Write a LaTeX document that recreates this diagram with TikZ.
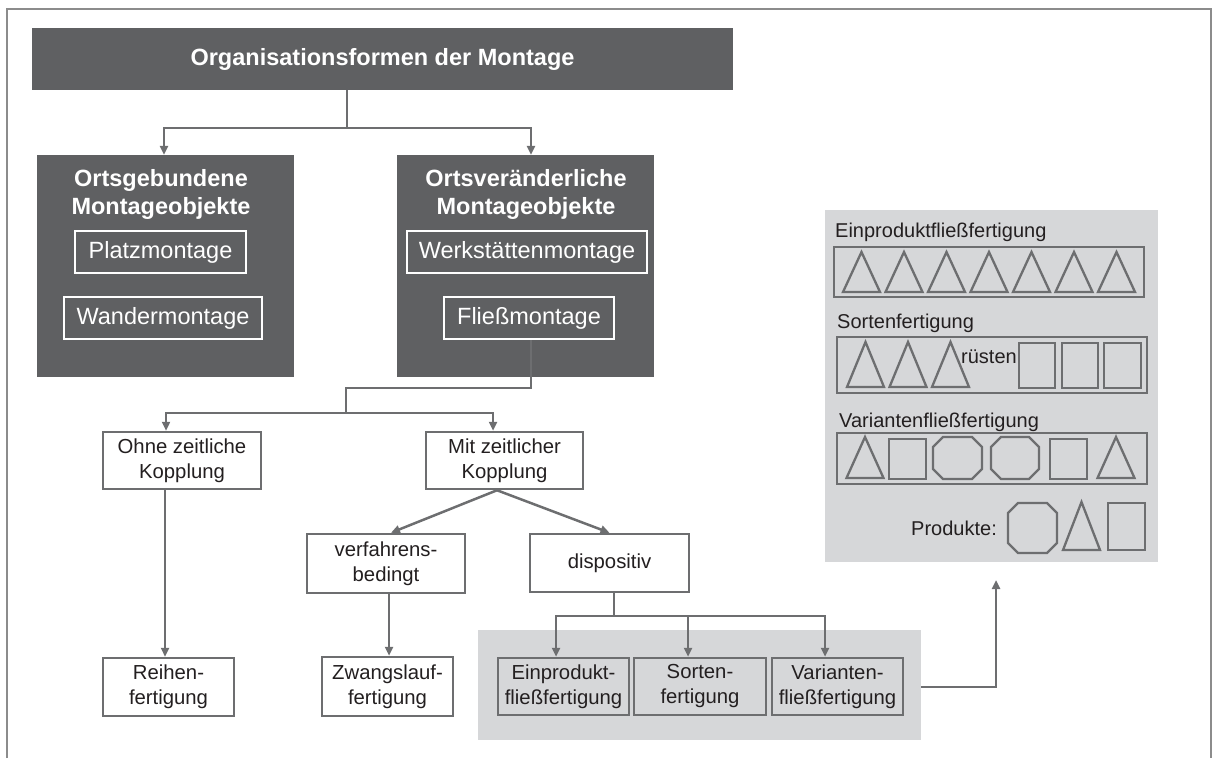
\documentclass[tikz,border=0pt]{standalone}
\usepackage{fontspec}
\setmainfont{Liberation Sans}
\usetikzlibrary{arrows.meta}

\definecolor{darkfill}{HTML}{5F6062}
\definecolor{linegray}{HTML}{6D6E70}
\definecolor{panel}{HTML}{D6D7D9}
\definecolor{ink}{HTML}{231F20}
\definecolor{framegray}{HTML}{8C8C8C}

% simple product symbols: triangle (centre x, apex y, base y), octagon and square (corners)
\newcommand\drawTri[3]{\draw[prodshape] (#1-18.5,#3) -- (#1,#2) -- (#1+18.5,#3) -- cycle;}
\newcommand\drawOct[4]{\draw[prodshape] (#1+10,#2) -- (#3-10,#2) -- (#3,#2+10) -- (#3,#4-10) -- (#3-10,#4) -- (#1+10,#4) -- (#1,#4-10) -- (#1,#2+10) -- cycle;}
\newcommand\drawSq[4]{\draw[prodshape] (#1,#2) rectangle (#3,#4);}

\tikzset{
  conn/.style={draw=linegray, line width=2.5pt},
  arr/.style={conn, -{Triangle[length=9pt,width=8pt]}},
  darkbox/.style={fill=darkfill, draw=none, inner sep=0pt, text=white},
  headtext/.style={text=white, align=center, inner sep=0pt, font=\bfseries\fontsize{23.5}{28}\selectfont},
  whitebox/.style={draw=white, line width=2pt, inner sep=0pt, text=white, font=\fontsize{23.5}{28}\selectfont},
  plainbox/.style={draw=linegray, line width=2.5pt, fill=white, inner sep=0pt, text=ink, align=center, font=\fontsize{20.3}{25}\selectfont},
  panelbox/.style={plainbox, fill=none},
  panelbg/.style={fill=panel, draw=none, inner sep=0pt},
  prodshape/.style={draw=linegray, line width=2.3pt},
  lbl/.style={anchor=base west, inner sep=0pt, text=ink, font=\fontsize{20}{24}\selectfont},
}

\begin{document}
\begin{tikzpicture}[x=1pt, y=-1pt]
\useasboundingbox (0,0) rectangle (1212,758);

% outer frame (open at the bottom)
\draw[draw=framegray, line width=2.5pt] (7,758) -- (7,9) -- (1211,9) -- (1211,758);

% grey panels
\node[panelbg, minimum width=443pt, minimum height=110pt] (grayL) at (699.5,685) {};
\node[panelbg, minimum width=333pt, minimum height=352pt] (grayR) at (991.5,386) {};

% top level
\node[darkbox, minimum width=701pt, minimum height=62pt, font=\bfseries\fontsize{23.5}{28}\selectfont] (title) at (382.5,59) {Organisationsformen der Montage};

\node[darkbox, minimum width=257pt, minimum height=222pt] (box1) at (165.5,266) {};
\node[headtext] (box1h) at (161,194) {Ortsgebundene\\Montageobjekte};
\node[whitebox, minimum width=171pt, minimum height=42pt] (platz) at (160.5,252) {Platzmontage};
\node[whitebox, minimum width=198pt, minimum height=42pt] (wander) at (163,318) {Wandermontage};

\node[darkbox, minimum width=257pt, minimum height=222pt] (box2) at (525.5,266) {};
\node[headtext] (box2h) at (526,194) {Ortsveränderliche\\Montageobjekte};
\node[whitebox, minimum width=240pt, minimum height=42pt] (werk) at (527,252) {Werkstättenmontage};
\node[whitebox, minimum width=170pt, minimum height=42pt] (fliess) at (529,318) {Fließmontage};

% coupling level
\node[plainbox, minimum width=158pt, minimum height=57pt] (ohne) at (182,460.5) {Ohne zeitliche\\Kopplung};
\node[plainbox, minimum width=157pt, minimum height=57pt] (mit) at (504.5,460.5) {Mit zeitlicher\\Kopplung};
\node[plainbox, minimum width=131pt, minimum height=58pt] (reihen) at (168.5,687) {Reihen-\\fertigung};
\node[plainbox, minimum width=158pt, minimum height=59pt] (verf) at (386,563.5) {verfahrens-\\bedingt};
\node[plainbox, minimum width=131pt, minimum height=59pt] (zwang) at (387.5,686.5) {Zwangslauf-\\fertigung};
\node[plainbox, minimum width=159pt, minimum height=58pt] (disp) at (609.5,563) {dispositiv};

\node[panelbox, minimum width=131pt, minimum height=57pt] (ein) at (563.5,686.5) {Einprodukt-\\fließfertigung};
\node[panelbox, minimum width=132pt, minimum height=57pt] (sort) at (700,686.5) {Sorten-\\fertigung};
\node[panelbox, minimum width=131pt, minimum height=57pt] (var) at (837.5,686.5) {Varianten-\\fließfertigung};

% connectors
\coordinate (jT) at (347,128);
\draw[conn] (jT |- title.south) -- (jT);
\draw[arr] (jT) -| ([xshift=-1.5pt]box1.north);
\draw[arr] (jT) -| ([xshift=5.5pt]box2.north);

\coordinate (jF) at (346,388);
\coordinate (jB) at (346,413);
\draw[conn] ([xshift=2pt]fliess.south) |- (jF) -- (jB);
\draw[arr] (jB) -| ([xshift=-16pt]ohne.north);
\draw[arr] (jB) -| ([xshift=-11.5pt]mit.north);

\draw[arr] ([xshift=-17pt]ohne.south) -- ([xshift=-3.5pt]reihen.north);
\draw[arr] ([xshift=-7.5pt]mit.south) -- ([xshift=5pt]verf.north);
\draw[arr] ([xshift=-7.5pt]mit.south) -- (disp.north);
\draw[arr] ([xshift=3pt]verf.south) -- ([xshift=1.5pt]zwang.north);

\coordinate (jD) at (614,616);
\draw[conn] ([xshift=4.5pt]disp.south) -- (jD);
\draw[arr] (jD) -| ([xshift=-7.5pt]ein.north);
\draw[arr] (jD) -| ([xshift=-12pt]sort.north);
\draw[arr] (jD) -| ([xshift=-12.5pt]var.north);

\coordinate (outTip) at (996,580);
\draw[arr] ([yshift=-2pt]grayL.east) -| (outTip);

% production patterns
\node[lbl] (l1) at (835,237) {Einproduktfließfertigung};
\drawSq{834}{247}{1144}{297}
\foreach \k in {0,...,6} {\drawTri{861.5+42.5*\k}{252}{292}}

\node[lbl] (l2) at (837,328) {Sortenfertigung};
\drawSq{837}{337}{1147}{393}
\drawTri{865.5}{342}{387}
\drawTri{908}{342}{387}
\drawTri{950.5}{342}{387}
\node[lbl] (l4) at (961,363) {rüsten};
\drawSq{1019}{343}{1055}{388}
\drawSq{1062}{343}{1098}{388}
\drawSq{1104}{343}{1141}{388}

\node[lbl] (l3) at (839,427) {Variantenfließfertigung};
\drawSq{837}{433}{1147}{484}
\drawTri{865}{437}{478}
\drawSq{889}{439}{926}{479}
\drawOct{933}{437}{982}{479}
\drawOct{991}{437}{1039}{479}
\drawSq{1050}{439}{1087}{479}
\drawTri{1116}{437}{478}

\node[lbl] (l5) at (911,535) {Produkte:};
\drawOct{1008}{503}{1057}{553}
\drawTri{1081.5}{502}{550}
\drawSq{1108}{503}{1145}{550}
\end{tikzpicture}
\end{document}
